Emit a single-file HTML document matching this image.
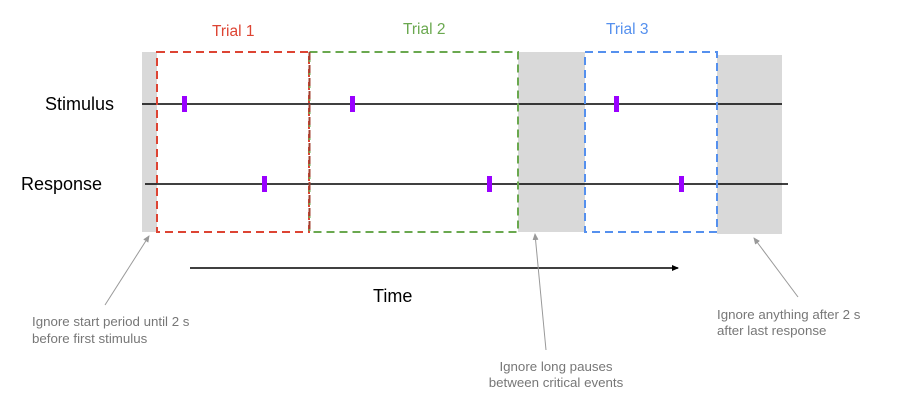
<!DOCTYPE html>
<html><head><style>body{margin:0;background:#fff}svg{display:block}</style></head>
<body>
<svg width="902" height="416" viewBox="0 0 902 416" xmlns="http://www.w3.org/2000/svg" font-family="Liberation Sans, Arial, sans-serif">
<defs>
<marker id="ga" markerWidth="8" markerHeight="8" refX="6" refY="3" orient="auto" markerUnits="userSpaceOnUse"><path d="M0,0 L7,3 L0,6 z" fill="#999"/></marker>
<marker id="ba" markerWidth="8" markerHeight="8" refX="6" refY="3" orient="auto" markerUnits="userSpaceOnUse"><path d="M0,0 L7,3 L0,6 z" fill="#000"/></marker>
</defs>
<rect x="142" y="52" width="15" height="180" fill="#d9d9d9"/>
<rect x="518" y="52" width="67" height="180" fill="#d9d9d9"/>
<rect x="717" y="55" width="65" height="179" fill="#d9d9d9"/>
<line x1="142" y1="104" x2="782" y2="104" stroke="#000" stroke-width="1.5"/>
<line x1="145" y1="184" x2="788" y2="184" stroke="#000" stroke-width="1.5"/>
<g fill="none" stroke-width="2" stroke-dasharray="8,5">
<rect x="157" y="52" width="152" height="180" stroke="#dd4433"/>
<rect x="309.5" y="52" width="208.5" height="180" stroke="#6aa84f"/>
<line x1="309.5" y1="52" x2="309.5" y2="232" stroke="#a04030"/>
<rect x="585" y="52" width="132" height="180" stroke="#5590ee"/>
</g>
<g fill="#9900ff">
<rect x="182" y="96" width="5" height="16"/><rect x="350" y="96" width="5" height="16"/><rect x="614" y="96" width="5" height="16"/>
<rect x="262" y="176" width="5" height="16"/><rect x="487" y="176" width="5" height="16"/><rect x="679" y="176" width="5" height="16"/>
</g>
<text x="212" y="36" font-size="15.5" fill="#dd4433">Trial 1</text>
<text x="403" y="34" font-size="15.5" fill="#6aa84f">Trial 2</text>
<text x="606" y="34" font-size="15.5" fill="#5590ee">Trial 3</text>
<text x="45" y="110" font-size="18" fill="#000">Stimulus</text>
<text x="21" y="190" font-size="18" fill="#000">Response</text>
<line x1="190" y1="268" x2="678" y2="268" stroke="#000" stroke-width="1.5" marker-end="url(#ba)"/>
<text x="373" y="302" font-size="18" fill="#000">Time</text>
<g stroke="#999" stroke-width="1">
<line x1="105" y1="305" x2="149" y2="236" marker-end="url(#ga)"/>
<line x1="546" y1="350" x2="535" y2="234" marker-end="url(#ga)"/>
<line x1="798" y1="297" x2="754" y2="238" marker-end="url(#ga)"/>
</g>
<g font-size="13.3" fill="#777">
<text x="32" y="326">Ignore start period until 2 s</text>
<text x="32" y="343">before first stimulus</text>
<text x="556" y="371" text-anchor="middle">Ignore long pauses</text>
<text x="556" y="387" text-anchor="middle">between critical events</text>
<text x="717" y="319">Ignore anything after 2 s</text>
<text x="717" y="335">after last response</text>
</g>
</svg>
</body></html>
